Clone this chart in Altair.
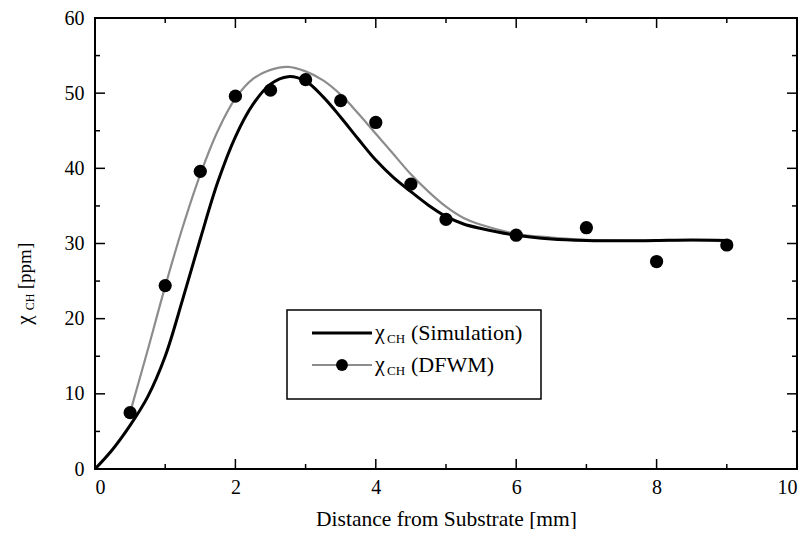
import altair as alt
import pandas as pd

# Simulation curve (black)
sim_x = [0, 0.25, 0.5, 0.75, 1.0, 1.25, 1.5, 1.75, 2.0, 2.25, 2.5, 2.75, 3.0, 3.25, 3.5,
         3.75, 4.0, 4.25, 4.5, 4.75, 5.0, 5.25, 5.5, 6.0, 6.5, 7.0, 7.5, 8.0, 8.5, 9.0]
sim_y = [0, 2.6, 5.8, 9.6, 15.0, 22.6, 30.6, 38.2, 44.2, 48.5, 51.2, 52.2, 51.6, 49.5, 46.8,
         43.9, 41.1, 38.8, 36.9, 35.1, 33.6, 32.6, 32.0, 31.1, 30.6, 30.4, 30.35, 30.4, 30.45, 30.4]

# DFWM fit curve (gray)
fit_x = [0.5, 0.75, 1.0, 1.25, 1.5, 1.75, 2.0, 2.25, 2.5, 2.75, 3.0, 3.25, 3.5, 3.75, 4.0,
         4.25, 4.5, 4.75, 5.0, 5.25, 5.5, 6.0, 6.5, 7.0, 7.5, 8.0, 8.5, 9.0]
fit_y = [7.5, 15.8, 24.3, 32.2, 39.2, 45.0, 49.3, 51.9, 53.1, 53.5, 52.9, 51.7, 49.8, 47.3, 44.6,
         41.9, 39.2, 36.9, 34.9, 33.4, 32.5, 31.3, 30.8, 30.5, 30.4, 30.4, 30.45, 30.3]

# DFWM measurements
pts_x = [0.5, 1.0, 1.5, 2.0, 2.5, 3.0, 3.5, 4.0, 4.5, 5.0, 6.0, 7.0, 8.0, 9.0]
pts_y = [7.5, 24.4, 39.6, 49.6, 50.4, 51.8, 49.0, 46.1, 37.9, 33.2, 31.1, 32.1, 27.6, 29.8]

x_major = [0, 2, 4, 6, 8, 10]
x_minor = [1, 3, 5, 7, 9]
y_major = [0, 10, 20, 30, 40, 50, 60]
y_minor = [5, 15, 25, 35, 45, 55]

W, H = 702, 451
FONT = "Liberation Serif, Times New Roman, DejaVu Serif, serif"

xs = alt.Scale(domain=[0, 10], nice=False, zero=False)
ys = alt.Scale(domain=[0, 60], nice=False, zero=False)

sim_df = pd.DataFrame({"x": sim_x, "y": sim_y})
fit_df = pd.DataFrame({"x": fit_x, "y": fit_y})
pts_df = pd.DataFrame({"x": pts_x, "y": pts_y})

xaxis = alt.Axis(values=x_major, format="d", labelFont=FONT, labelFontSize=20,
                 labelColor="black", labelPadding=8, title="Distance from Substrate [mm]",
                 titleFont=FONT, titleFontSize=21.5, titleFontWeight="normal",
                 titleColor="black", titlePadding=11)
yaxis = alt.Axis(values=y_major, format="d", labelFont=FONT, labelFontSize=20,
                 labelColor="black", labelPadding=11, title=None)

sim = alt.Chart(sim_df).mark_line(color="black", strokeWidth=3, interpolate="catmull-rom").encode(
    x=alt.X("x:Q", scale=xs, axis=xaxis),
    y=alt.Y("y:Q", scale=ys, axis=yaxis),
)
fit = alt.Chart(fit_df).mark_line(color="#8c8c8c", strokeWidth=2.2, interpolate="catmull-rom").encode(
    x=alt.X("x:Q", scale=xs), y=alt.Y("y:Q", scale=ys)
)
pts = alt.Chart(pts_df).mark_circle(color="black", opacity=1, size=175).encode(
    x=alt.X("x:Q", scale=xs), y=alt.Y("y:Q", scale=ys)
)

def xticks(vals, length):
    d = pd.DataFrame({"t": vals})
    b = alt.Chart(d).mark_rule(color="black", strokeWidth=1.5).encode(
        x=alt.X("t:Q", scale=xs), y=alt.value(H), y2=alt.value(H - length))
    t = alt.Chart(d).mark_rule(color="black", strokeWidth=1.5).encode(
        x=alt.X("t:Q", scale=xs), y=alt.value(0), y2=alt.value(length))
    return [b, t]

def yticks(vals, length):
    d = pd.DataFrame({"t": vals})
    l = alt.Chart(d).mark_rule(color="black", strokeWidth=1.5).encode(
        y=alt.Y("t:Q", scale=ys), x=alt.value(0), x2=alt.value(length))
    r = alt.Chart(d).mark_rule(color="black", strokeWidth=1.5).encode(
        y=alt.Y("t:Q", scale=ys), x=alt.value(W), x2=alt.value(W - length))
    return [l, r]

ticks = xticks(x_major, 10) + xticks(x_minor, 5) + yticks(y_major, 10) + yticks(y_minor, 5)

one = pd.DataFrame({"a": [0]})
base = alt.Chart(one)

# Legend (decoration)
box = base.mark_rect(fill="white", stroke="black", strokeWidth=1.5).encode(
    x=alt.value(192), x2=alt.value(446), y=alt.value(292), y2=alt.value(381))
leg_l1 = base.mark_rule(color="black", strokeWidth=3).encode(
    x=alt.value(217), x2=alt.value(277), y=alt.value(315))
leg_l2 = base.mark_rule(color="#8c8c8c", strokeWidth=2.2).encode(
    x=alt.value(217), x2=alt.value(277), y=alt.value(347))
leg_dot = base.mark_circle(color="black", opacity=1, size=140).encode(
    x=alt.value(247), y=alt.value(347))

def legend_text(y, label):
    chi = base.mark_text(font=FONT, fontSize=22, align="left", baseline="middle", color="black").encode(
        x=alt.value(280), y=alt.value(y - 1), text=alt.value("χ"))
    sub = base.mark_text(font=FONT, fontSize=13, align="left", baseline="middle", color="black").encode(
        x=alt.value(292), y=alt.value(y + 6), text=alt.value("CH"))
    lab = base.mark_text(font=FONT, fontSize=22, align="left", baseline="middle", color="black").encode(
        x=alt.value(316), y=alt.value(y), text=alt.value(label))
    return [chi, sub, lab]

legend = [box, leg_l1, leg_l2, leg_dot] + legend_text(315, "(Simulation)") + legend_text(347, "(DFWM)")

# Y axis title (rotated, with subscript)
yt_chi = base.mark_text(font=FONT, fontSize=21, angle=270, align="center", baseline="middle", color="black").encode(
    x=alt.value(-70), y=alt.value(302), text=alt.value("χ"))
yt_sub = base.mark_text(font=FONT, fontSize=12, angle=270, align="center", baseline="middle", color="black").encode(
    x=alt.value(-65), y=alt.value(284), text=alt.value("CH"))
yt_ppm = base.mark_text(font=FONT, fontSize=19, angle=270, align="center", baseline="middle", color="black").encode(
    x=alt.value(-70), y=alt.value(248), text=alt.value("[ppm]"))

chart = alt.layer(
    fit, sim, pts, *ticks, *legend, yt_chi, yt_sub, yt_ppm
).properties(
    width=W, height=H,
    autosize=alt.AutoSizeParams(type="none"),
    padding={"left": 87, "top": 10, "right": 5, "bottom": 60},
    background="white",
).configure_view(
    stroke="black", strokeWidth=2
).configure_axis(
    grid=False, domain=False, ticks=False
)

chart.save("out.html", embed_options={"renderer": "svg", "actions": False})
